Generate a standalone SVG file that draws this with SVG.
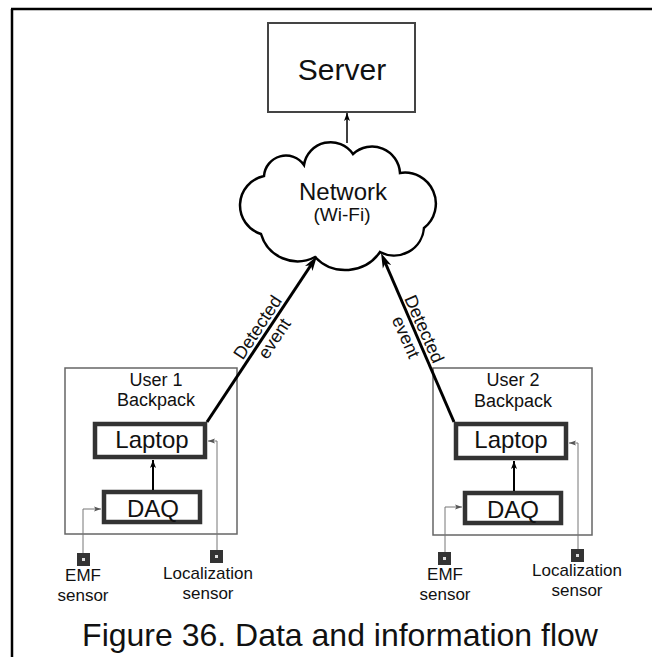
<svg xmlns="http://www.w3.org/2000/svg" width="652" height="657" viewBox="0 0 652 657">
  <style>
    .t { font-family: "Liberation Sans", Arial, sans-serif; fill: #111; text-anchor: middle; }
    .s { font-size: 17px; }
    .bp { fill: none; stroke: #666; stroke-width: 1.5; }
    .thick { fill: #fff; stroke: #333; stroke-width: 4.5; }
    .sig { fill: none; stroke: #777; stroke-width: 1; }
    .sq { fill: #333; }
    .dot { fill: #ddd; }
  </style>
  <defs>
    <marker id="ah-big" markerUnits="userSpaceOnUse" markerWidth="16" markerHeight="10" refX="9" refY="5" orient="auto">
      <path d="M0,0.5 L15,5 L0,9.5 L4,5 z" fill="#000"/>
    </marker>
    <marker id="ah-small" markerUnits="userSpaceOnUse" markerWidth="9" markerHeight="6" refX="8" refY="3" orient="auto">
      <path d="M0,0 L8,3 L0,6 L2,3 z" fill="#000"/>
    </marker>
    <marker id="ah-tiny" markerUnits="userSpaceOnUse" markerWidth="8" markerHeight="6" refX="7" refY="3" orient="auto">
      <path d="M0,0.5 L7,3 L0,5.5 L1.5,3 z" fill="#555"/>
    </marker>
  </defs>

  <rect width="652" height="657" fill="#fff"/>
  <g id="frame" stroke="#000" stroke-width="2.5" fill="none">
    <line x1="11" y1="9" x2="652" y2="9"/>
    <line x1="12" y1="9" x2="12" y2="657"/>
  </g>

  <g id="server">
    <rect x="268" y="23" width="147" height="89" fill="#fff" stroke="#444" stroke-width="2"/>
    <text class="t" x="342" y="80" font-size="30">Server</text>
  </g>

  <g id="network">
    <path d="M264,176 A22,22 0 0 1 304,165 A27,27 0 0 1 353,154 A28,28 0 0 1 400,173 A31,31 0 0 1 424,228 A30,30 0 0 1 380,252 A42,42 0 0 1 315,257 A38,38 0 0 1 261,234 A30,30 0 0 1 264,176 Z" fill="#fff" stroke="#000" stroke-width="2.5"/>
    <text class="t" x="343" y="200" font-size="24">Network</text>
    <text class="t" x="342" y="221" font-size="19">(Wi-Fi)</text>
  </g>

  <g id="backpack1">
    <rect class="bp" x="65" y="368" width="172" height="166"/>
    <text class="t" x="156" y="386" font-size="18">User 1</text>
    <text class="t" x="156" y="406" font-size="18">Backpack</text>
  </g>
  <g id="laptop1">
    <rect class="thick" x="95" y="424" width="110" height="33"/>
    <text class="t" x="152" y="448" font-size="24">Laptop</text>
  </g>
  <g id="daq1">
    <rect class="thick" x="104" y="492" width="96" height="30"/>
    <text class="t" x="153" y="517" font-size="24">DAQ</text>
  </g>
  <g id="emf1">
    <rect class="sq" x="77" y="553" width="13" height="13"/>
    <rect class="dot" x="82" y="558" width="3" height="3"/>
    <text class="t s" x="83" y="581">EMF</text>
    <text class="t s" x="83" y="601">sensor</text>
  </g>
  <g id="loc1">
    <rect class="sq" x="210" y="550" width="13" height="13"/>
    <rect class="dot" x="215" y="555" width="3" height="3"/>
    <text class="t s" x="208" y="579">Localization</text>
    <text class="t s" x="208" y="599">sensor</text>
  </g>

  <g id="backpack2">
    <rect class="bp" x="433" y="368" width="159" height="167"/>
    <text class="t" x="513" y="386" font-size="18">User 2</text>
    <text class="t" x="513" y="407" font-size="18">Backpack</text>
  </g>
  <g id="laptop2">
    <rect class="thick" x="456" y="424" width="110" height="34"/>
    <text class="t" x="511" y="448" font-size="24">Laptop</text>
  </g>
  <g id="daq2">
    <rect class="thick" x="465" y="493" width="96" height="30"/>
    <text class="t" x="513" y="518" font-size="24">DAQ</text>
  </g>
  <g id="emf2">
    <rect class="sq" x="438" y="552" width="13" height="13"/>
    <rect class="dot" x="443" y="557" width="3" height="3"/>
    <text class="t s" x="445" y="580">EMF</text>
    <text class="t s" x="445" y="600">sensor</text>
  </g>
  <g id="loc2">
    <rect class="sq" x="571" y="549" width="13" height="13"/>
    <rect class="dot" x="576" y="554" width="3" height="3"/>
    <text class="t s" x="577" y="576">Localization</text>
    <text class="t s" x="577" y="596">sensor</text>
  </g>

  <g id="connectors">
    <line x1="347" y1="143" x2="347" y2="113" stroke="#000" stroke-width="1.5" marker-end="url(#ah-small)"/>
    <line x1="207" y1="422" x2="313.7" y2="261" stroke="#000" stroke-width="3" marker-end="url(#ah-big)"/>
    <line x1="454" y1="422" x2="383.4" y2="258.5" stroke="#000" stroke-width="3" marker-end="url(#ah-big)"/>
    <line x1="153" y1="490" x2="153" y2="460" stroke="#000" stroke-width="2" marker-end="url(#ah-small)"/>
    <line x1="514" y1="491" x2="514" y2="461" stroke="#000" stroke-width="2" marker-end="url(#ah-small)"/>
    <polyline class="sig" points="83,553 83,509 101,509" marker-end="url(#ah-tiny)"/>
    <polyline class="sig" points="217,550 217,441 208,441" marker-end="url(#ah-tiny)"/>
    <polyline class="sig" points="445,552 445,507 462,507" marker-end="url(#ah-tiny)"/>
    <polyline class="sig" points="578,549 578,443 569,443" marker-end="url(#ah-tiny)"/>
    <g transform="translate(266,333) rotate(-56.5)">
      <text class="t" x="0" y="-4" font-size="18">Detected</text>
      <text class="t" x="0" y="16" font-size="18">event</text>
    </g>
    <g transform="translate(415,333) rotate(66)">
      <text class="t" x="0" y="-4" font-size="18">Detected</text>
      <text class="t" x="0" y="16" font-size="18">event</text>
    </g>
  </g>

  <text id="caption" class="t" x="340" y="646" font-size="32">Figure 36. Data and information flow</text>
</svg>
